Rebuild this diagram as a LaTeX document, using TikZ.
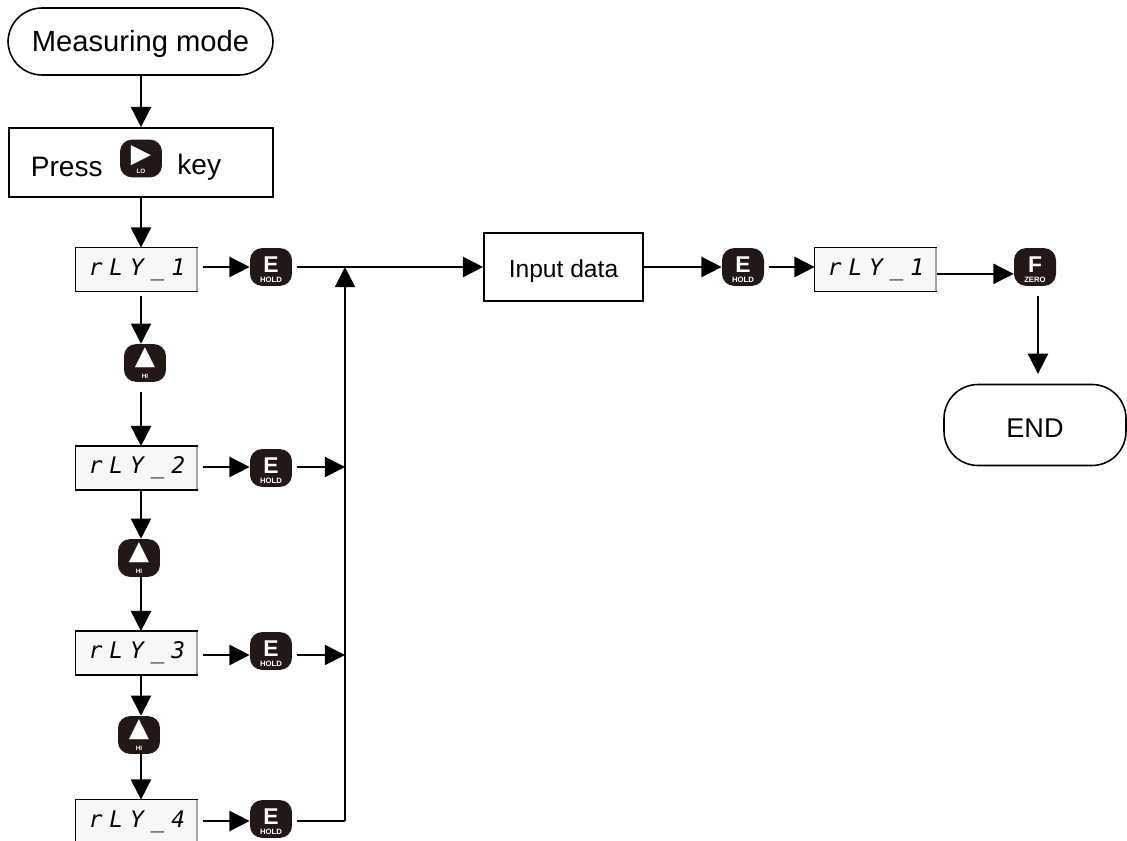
\documentclass[tikz,border=0pt]{standalone}
\usepackage{fontspec}
\setmainfont{Liberation Sans}
\newfontfamily\lcdfont[LetterSpace=30]{DejaVu Sans Mono}
\newfontfamily\symfont{DejaVu Sans}
\usetikzlibrary{arrows.meta}
\definecolor{keydark}{HTML}{231815}
\newcommand{\keycap}[2]{\makebox[0pt]{\raisebox{5.6pt}{\fontsize{13}{13}\selectfont #1}}\makebox[0pt]{\fontsize{4.4}{5}\selectfont #2}}
\newcommand{\keysym}[3]{\makebox[0pt]{\raisebox{#1}{\symfont\fontsize{15}{15}\selectfont #2}}\makebox[0pt]{\fontsize{3.6}{5}\selectfont #3}}
\tikzset{
    flow/.style={black, line width=1pt, -{Triangle[length=11.5pt, width=11.5pt]}},
    plainline/.style={black, line width=1pt},
    term/.style={draw=black, line width=0.9pt, rounded corners=0.68cm, inner sep=0pt},
    panel/.style={draw=black, line width=1pt, inner sep=0pt},
    lcd/.style={fill=black!3, minimum width=2.44cm, minimum height=0.86cm, inner sep=0pt, font=\lcdfont\itshape\fontsize{13}{15}\selectfont},
    keybtn/.style={fill=keydark, text=white, rounded corners=0.24cm, minimum width=0.84cm, inner sep=0pt, text height=19.3pt, text depth=2.2pt, font=\bfseries},
    plain/.style={inner sep=0pt, font=\fontsize{16}{18}\selectfont}
}
\begin{document}
\begin{tikzpicture}[x=0.02cm, y=-0.02cm]
    \useasboundingbox (0,0) rectangle (1127,841);

    % Terminals and boxes
    \node[term, minimum width=5.3cm, minimum height=1.34cm, text height=11.9pt, text depth=0pt, font=\fontsize{16.6}{18}\selectfont] (start) at (140.5,41.5) {Measuring mode};
    \node[panel, minimum width=5.28cm, minimum height=1.38cm] (press) at (141,162.5) {};
    \node[panel, minimum width=3.18cm, minimum height=1.36cm, text height=11.5pt, text depth=0pt, font=\fontsize{14}{18}\selectfont] (input) at (563.5,267) {Input data\hspace{3.4pt}};
    \node[term, minimum width=3.64cm, minimum height=1.62cm, text height=14.7pt, text depth=0pt, font=\fontsize{15.4}{18}\selectfont] (finish) at (1035,425) {END};

    % Text of the press box
    \node[keybtn] (keyLo) at (141,158.5) {\keysym{6.5pt}{▶}{LO}};
    \node[plain, anchor=east] (pressWord) at (103,167) {Press};
    \node[plain, anchor=west] (keyWord) at (177,167) {key};

    % Displays
    \node[lcd] (rlyA) at (137,269.5) {rLY\_1};
    \node[lcd] (rlyB) at (137,468) {rLY\_2};
    \node[lcd] (rlyC) at (137,653) {rLY\_3};
    \node[lcd] (rlyD) at (137,821.5) {rLY\_4};
    \node[lcd] (rlyE) at (876,269.5) {rLY\_1};
    \foreach \n in {rlyA,rlyB,rlyC,rlyD,rlyE} {
        \draw[black!35, line width=1.6pt] ([xshift=-0.8pt]\n.north east) -- ([xshift=-0.8pt]\n.south east);
        \draw[black, line width=0.8pt] (\n.north east) -- (\n.north west) -- (\n.south west) -- (\n.south east);
    }

    % Keys
    \node[keybtn] (keyHoldA) at (271,267) {\keycap{E}{HOLD}};
    \node[keybtn] (keyHoldB) at (271,468) {\keycap{E}{HOLD}};
    \node[keybtn] (keyHoldC) at (271,651) {\keycap{E}{HOLD}};
    \node[keybtn] (keyHoldD) at (271,819) {\keycap{E}{HOLD}};
    \node[keybtn] (keyHoldE) at (743,267) {\keycap{E}{HOLD}};
    \node[keybtn] (keyZero) at (1035,267) {\keycap{F}{ZERO}};
    \node[keybtn] (keyHiA) at (145,363) {\keysym{7.5pt}{▲}{HI}};
    \node[keybtn] (keyHiB) at (139,558) {\keysym{7.5pt}{▲}{HI}};
    \node[keybtn] (keyHiC) at (139,735) {\keysym{7.5pt}{▲}{HI}};

    % Junctions on the collecting line
    \coordinate (busA) at (345,267);
    \coordinate (busB) at (345,467);
    \coordinate (busC) at (345,655);
    \coordinate (busD) at (345,821);

    % Vertical flow
    \draw[flow] (start.south -| keyLo) -- (press.north -| keyLo);
    \draw[flow] (press.south -| keyLo) -- (rlyA.north -| keyLo);
    \draw[flow, shorten <=2.8pt] (rlyA.south -| keyLo) -- (keyHiA.north -| keyLo);
    \draw[flow, shorten <=5.6pt] (keyHiA.south -| keyLo) -- (rlyB.north -| keyLo);
    \draw[flow] (rlyB.south -| keyLo) -- (keyHiB.north -| keyLo);
    \draw[flow] (keyHiB.south -| keyLo) -- (rlyC.north -| keyLo);
    \draw[flow] (rlyC.south -| keyLo) -- (keyHiC.north -| keyLo);
    \draw[flow] (keyHiC.south -| keyLo) -- (rlyD.north -| keyLo);

    % Rows into the keys
    \draw[flow, shorten <=2.5pt] (rlyA.east |- busA) -- (keyHoldA.west |- busA);
    \draw[flow, shorten <=2.5pt] (rlyB.east |- busB) -- (keyHoldB.west |- busB);
    \draw[flow, shorten <=2.5pt] (rlyC.east |- busC) -- (keyHoldC.west |- busC);
    \draw[flow, shorten <=2.5pt] (rlyD.east |- busD) -- (keyHoldD.west |- busD);

    % Rows into the collecting line
    \draw[flow, shorten <=2.5pt] (keyHoldA.east |- busA) -- (input.west |- busA);
    \draw[flow, shorten <=2.5pt] (keyHoldB.east |- busB) -- (busB);
    \draw[flow, shorten <=2.5pt] (keyHoldC.east |- busC) -- (busC);
    \draw[plainline, shorten <=2.5pt] (keyHoldD.east |- busD) -- (busD);
    \draw[flow] (busD) -- (busA);

    % Top row to the end
    \draw[flow] (input.east) -- (keyHoldE.west);
    \draw[flow, shorten <=2.5pt] (keyHoldE.east) -- (keyHoldE.east -| rlyE.west);
    \draw[flow] ([yshift=-2.5pt]rlyE.east) -- ([yshift=-2.5pt]rlyE.east -| keyZero.west);
    \draw[flow, shorten <=5.6pt, shorten >=5.6pt] (keyZero.south -| finish.north) ++(3,0) -- ([xshift=3*0.02cm]finish.north);
\end{tikzpicture}
\end{document}
